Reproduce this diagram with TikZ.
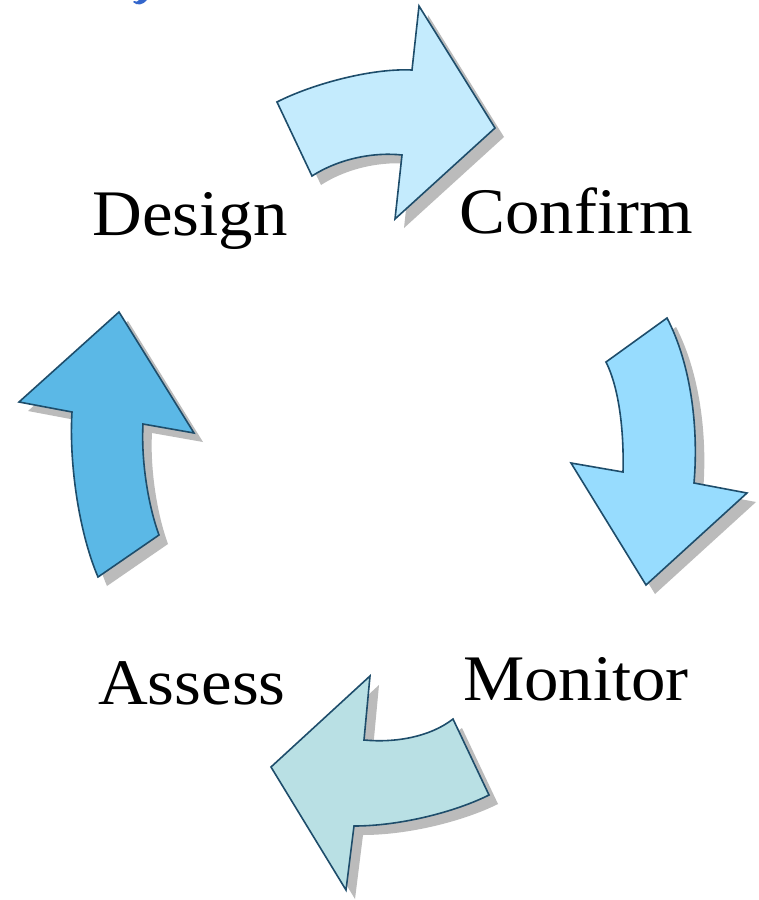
\documentclass[tikz,border=0pt]{standalone}
\usepackage{fontspec}
\setmainfont{Liberation Serif}
\usetikzlibrary{calc}
\definecolor{outl}{HTML}{1E4D6B}
\definecolor{ctop}{HTML}{C4EBFD}
\definecolor{cright}{HTML}{97DCFE}
\definecolor{cleft}{HTML}{5BB8E6}
\definecolor{cbot}{HTML}{B9E0E4}
\definecolor{shad}{HTML}{BBBBBB}
\definecolor{titleblue}{HTML}{3366CC}
\tikzset{
  arrowshape/.style={draw=outl, line width=1.6pt, line join=miter},
  shadowshape/.style={fill=shad, draw=none},
  lbl/.style={anchor=base, inner sep=0pt, xscale=1.06, font=\fontsize{65}{72}\selectfont},
  pics/toparrow/.style={code={
    \path[pic actions] (277,102) .. controls (310,85) and (370,68) .. (412,70) -- (419,6) -- (495,128)
      -- (395,219) -- (402,155) .. controls (375,152) and (340,158) .. (312,176) -- cycle;}},
  pics/rightarrow/.style={code={
    \path[pic actions] (606,362) -- (667,318) .. controls (690,362) and (699,425) .. (694,483) -- (747,493)
      -- (646,585) -- (571,463) -- (623,472) .. controls (624,435) and (620,390) .. cycle;}},
  pics/leftarrow/.style={code={
    \path[pic actions] (98,577) -- (159,535) .. controls (148,505) and (141,460) .. (143,424) -- (194,433)
      -- (119,312) -- (19,402) -- (72,412) .. controls (69,460) and (78,530) .. cycle;}},
  pics/botarrow/.style={code={
    \path[pic actions] (453,719) -- (489,795) .. controls (455,812) and (400,826) .. (354,826) -- (346,890)
      -- (271,767) -- (370,676) -- (364,740) .. controls (395,743) and (430,737) .. cycle;}},
}
\begin{document}
\begin{tikzpicture}[x=1pt,y=-1pt]
\useasboundingbox (0,0) rectangle (759,900);
\fill[white] (0,0) rectangle (759,900);
% fragment of cropped title
\fill[titleblue] (133,2) .. controls (137,6) and (143,5) .. (147,0) -- (139,0) .. controls (138,2) and (136,2) .. (134,1) -- cycle;
% shadows
\pic[shadowshape] at (9,9) {toparrow};
\pic[shadowshape] at (9,9) {rightarrow};
\pic[shadowshape] at (9,9) {leftarrow};
\pic[shadowshape] at (9,9) {botarrow};
% arrows
\pic[arrowshape, fill=ctop] at (0,0) {toparrow};
\pic[arrowshape, fill=cright] at (0,0) {rightarrow};
\pic[arrowshape, fill=cleft] at (0,0) {leftarrow};
\pic[arrowshape, fill=cbot] at (0,0) {botarrow};
% labels
\node[lbl] (design) at (190,235) {Design};
\node[lbl] (confirm) at (576,233) {Confirm};
\node[lbl] (assess) at (192,704) {Assess};
\node[lbl] (monitor) at (576,700) {Monitor};
\end{tikzpicture}
\end{document}
